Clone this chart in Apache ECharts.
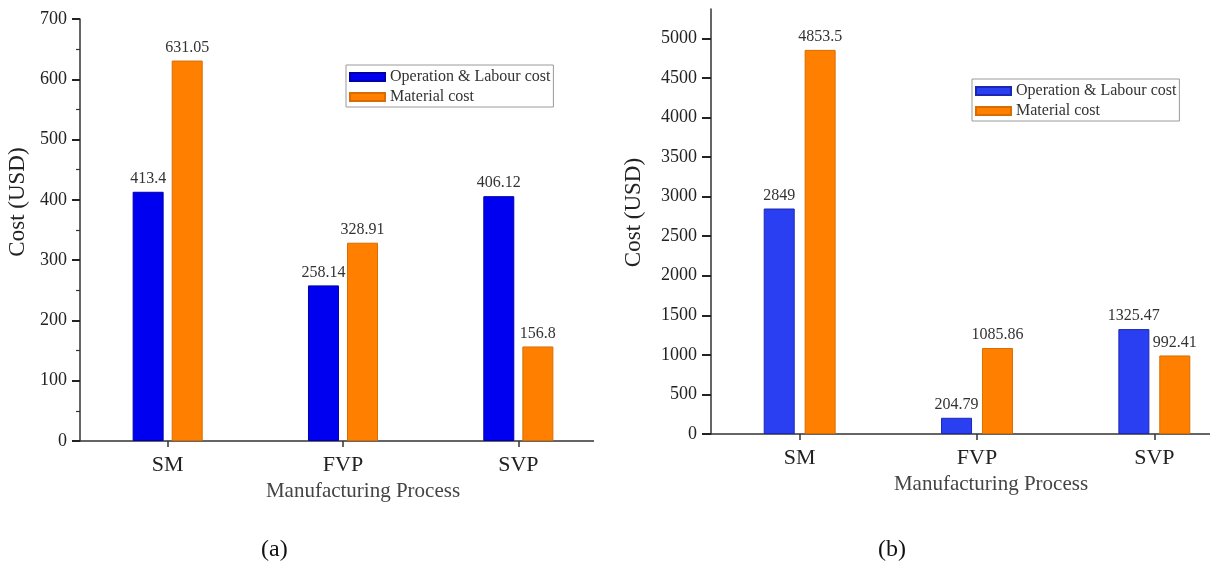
<!DOCTYPE html>
<html>
<head>
<meta charset="utf-8">
<script src="https://cdn.jsdelivr.net/npm/echarts@6/dist/echarts.min.js"></script>
<style>
  html, body { margin: 0; padding: 0; background: #fff; }
  #wrap { position: relative; width: 1210px; height: 573px; overflow: hidden; background: #fff; }
  #chartA { position: absolute; left: 0; top: 0; width: 594px; height: 573px; }
  #chartB { position: absolute; left: 610px; top: 0; width: 600px; height: 573px; }
</style>
</head>
<body>
<div id="wrap">
  <div id="chartA"></div>
  <div id="chartB"></div>
</div>
<script>
// ---- data ----
const categories = ['SM', 'FVP', 'SVP'];
const seriesNames = ['Operation & Labour cost', 'Material cost'];
const labourA = [413.4, 258.14, 406.12];
const materialA = [631.05, 328.91, 156.8];
const labourB = [2849, 204.79, 1325.47];
const materialB = [4853.5, 1085.86, 992.41];
const yTicksB = [0, 500, 1000, 1500, 2000, 2500, 3000, 3500, 4000, 4500, 5000];
const panelLabels = ['(a)', '(b)'];
const xAxisTitle = 'Manufacturing Process';
const yAxisTitle = 'Cost (USD)';

const FONT = "'Liberation Serif', 'Times New Roman', serif";
const AXIS_COLOR = '#333333';

function buildOption(cfg) {
  const yAxis = {
    type: 'value',
    min: 0,
    max: cfg.yMax,
    interval: cfg.interval,
    name: yAxisTitle,
    nameLocation: 'middle',
    nameGap: cfg.yNameGap,
    nameRotate: 90,
    nameTextStyle: { fontFamily: FONT, fontSize: 23, color: '#222', padding: cfg.yNamePad },
    axisLine: { show: true, lineStyle: { color: AXIS_COLOR, width: 1.5 } },
    axisTick: { show: true, length: cfg.tickLen, lineStyle: { color: '#222', width: 2 } },
    minorTick: { show: cfg.minor, splitNumber: 2, length: 4, lineStyle: { color: AXIS_COLOR, width: 1.2 } },
    splitLine: { show: false },
    axisLabel: {
      fontFamily: FONT, fontSize: 18, color: '#222', margin: cfg.labelMargin,
      formatter: function (v) { return v > cfg.labelMax ? '' : String(v); }
    }
  };
  if (cfg.customTicks) {
    yAxis.axisTick.customValues = cfg.customTicks;
    yAxis.axisLabel.customValues = cfg.customTicks;
  }
  return {
    animation: false,
    backgroundColor: '#fff',
    textStyle: { fontFamily: FONT },
    grid: {
      left: cfg.gridLeft, top: cfg.gridTop, width: cfg.gridWidth, height: cfg.gridHeight,
      containLabel: false, outerBoundsMode: 'none'
    },
    legend: {
      orient: 'vertical',
      left: cfg.legendLeft,
      top: cfg.legendTop,
      padding: [4, 3, 2, 3],
      borderColor: '#9a9a9a',
      borderWidth: 1,
      itemWidth: 35,
      itemHeight: 8,
      itemGap: 4,
      icon: 'rect',
      textStyle: { fontFamily: FONT, fontSize: 16, color: '#333', lineHeight: 16 },
      data: seriesNames
    },
    xAxis: {
      type: 'category',
      data: categories,
      name: xAxisTitle,
      nameLocation: 'middle',
      nameGap: 36,
      nameTextStyle: { fontFamily: FONT, fontSize: 21, color: '#444', padding: cfg.xNamePad },
      axisLine: { show: true, lineStyle: { color: AXIS_COLOR, width: 1.5 } },
      axisTick: { show: true, alignWithLabel: true, length: 6, lineStyle: { color: AXIS_COLOR, width: 1.5 } },
      axisLabel: { fontFamily: FONT, fontSize: 22, color: '#222', margin: 13 },
      splitLine: { show: false }
    },
    yAxis: yAxis,
    graphic: [{
      type: 'text',
      left: cfg.panelX,
      top: 538,
      style: { text: cfg.panel, font: '24px ' + FONT, fill: '#111' }
    }],
    series: [
      {
        name: seriesNames[0], type: 'bar', data: cfg.labour,
        barWidth: 31, barGap: cfg.barGap,
        itemStyle: { color: cfg.blue, borderColor: cfg.blueBorder, borderWidth: 1 },
        label: { show: true, position: 'top', distance: 5, fontFamily: FONT, fontSize: 16, color: '#333' }
      },
      {
        name: seriesNames[1], type: 'bar', data: cfg.material,
        barWidth: 31, barGap: cfg.barGap,
        itemStyle: { color: '#ff8000', borderColor: '#d86c00', borderWidth: 1 },
        label: { show: true, position: 'top', distance: 5, fontFamily: FONT, fontSize: 16, color: '#333' }
      }
    ]
  };
}

const chartA = echarts.init(document.getElementById('chartA'), null, { renderer: 'canvas' });
chartA.setOption(buildOption({
  yMax: 700, interval: 100, labelMax: 700, minor: true, tickLen: 8, labelMargin: 13,
  yNameGap: 47, yNamePad: [0, 0, 0, 56], xNamePad: [0, 0, 0, 40],
  gridLeft: 80, gridTop: 19, gridWidth: 526, gridHeight: 422,
  legendLeft: 346, legendTop: 65,
  labour: labourA, material: materialA, barGap: '26%',
  blue: '#0000f0', blueBorder: '#0000a8',
  panel: panelLabels[0], panelX: 261
}));

const chartB = echarts.init(document.getElementById('chartB'), null, { renderer: 'canvas' });
chartB.setOption(buildOption({
  yMax: 5370, interval: 500, labelMax: 5000, minor: false, tickLen: 9, labelMargin: 14,
  customTicks: yTicksB,
  yNameGap: 66, yNamePad: [0, 0, 0, 18], xNamePad: [0, 0, 0, 28],
  gridLeft: 101, gridTop: 9, gridWidth: 532, gridHeight: 425,
  legendLeft: 362, legendTop: 79,
  labour: labourB, material: materialB, barGap: '32%',
  blue: '#2b3ff2', blueBorder: '#1a28b0',
  panel: panelLabels[1], panelX: 268
}));
</script>
</body>
</html>
